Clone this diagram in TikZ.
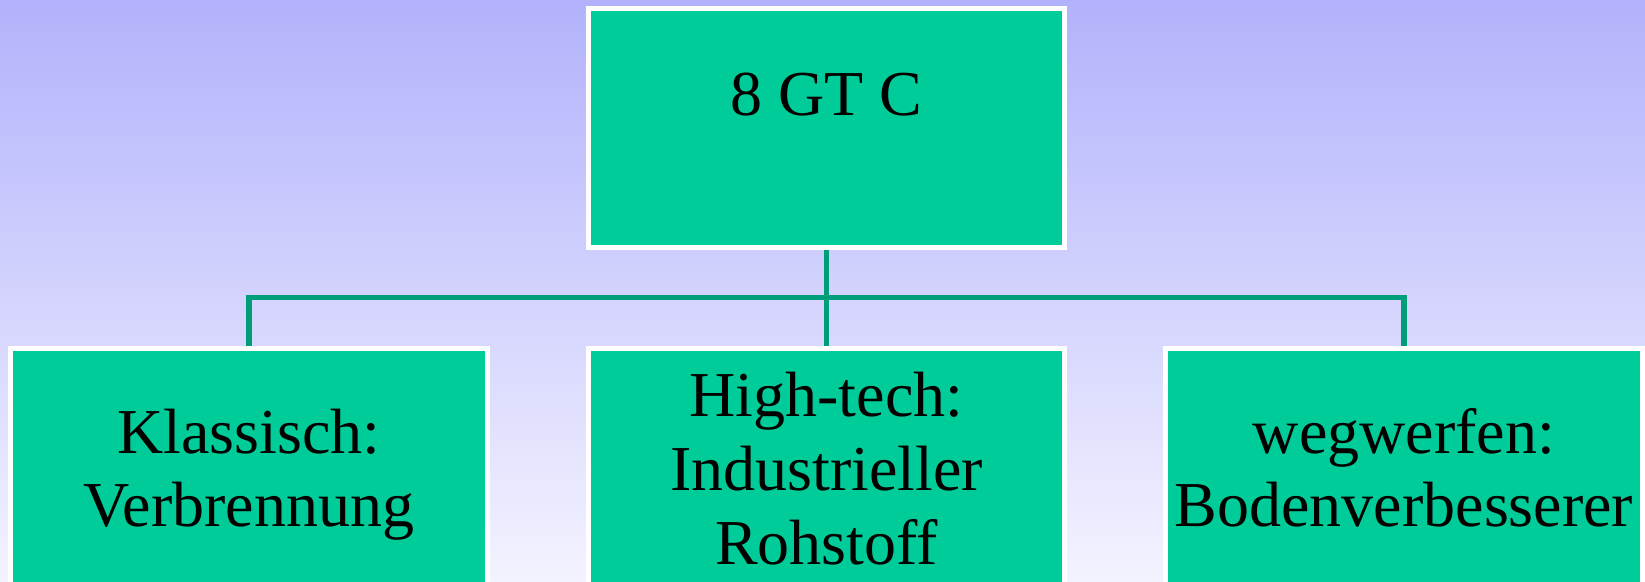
\documentclass[tikz,border=0pt]{standalone}
\usepackage{fontspec}
\setmainfont{Liberation Serif}
\definecolor{bgtop}{RGB}{178,178,252}
\definecolor{bgbottom}{RGB}{243,243,255}
\definecolor{boxfill}{RGB}{0,204,153}
\definecolor{linkgreen}{RGB}{0,158,120}
\tikzset{
  unitbox/.style={draw=white, line width=5pt, fill=boxfill, rectangle,
    inner sep=0pt, outer sep=2.5pt},
  boxtext/.style={anchor=base, inner sep=0pt, font=\fontsize{64}{74}\selectfont},
  link/.style={draw=linkgreen, line width=5.3pt, line join=miter, line cap=butt}
}
\begin{document}
\begin{tikzpicture}[x=1pt, y=-1pt]
  \clip (0,0) rectangle (1645,581);
  \shade[top color=bgtop, bottom color=bgbottom] (0,0) rectangle (1645,581);

  % boxes
  \node[unitbox, minimum width=476pt, minimum height=239pt] (top) at (826.5,128) {};
  \node[unitbox, minimum width=477pt, minimum height=291.5pt] (left) at (249,494.25) {};
  \node[unitbox, minimum width=476pt, minimum height=291.5pt] (mid) at (826.5,494.25) {};
  \node[unitbox, minimum width=477pt, minimum height=291.5pt] (right) at (1404,494.25) {};

  % connectors
  \coordinate (bus) at (826.5,297.5);
  \draw[link] (top.south) -- (mid.north);
  \draw[link] (left.north) |- (bus) -| (right.north);

  % labels
  \node[boxtext] (ttop) at (826.5,115) {8 GT C};
  \node[boxtext] (tl1) at (249,453.3) {Klassisch:};
  \node[boxtext] (tl2) at (249,526.7) {Verbrennung};
  \node[boxtext] (tm1) at (826.5,416) {High-tech:};
  \node[boxtext] (tm2) at (826.5,490) {Industrieller};
  \node[boxtext] (tm3) at (826.5,564) {Rohstoff};
  \node[boxtext] (tr1) at (1404,453.3) {wegwerfen:};
  \node[boxtext] (tr2) at (1404,526.7) {Bodenverbesserer};
\end{tikzpicture}
\end{document}
